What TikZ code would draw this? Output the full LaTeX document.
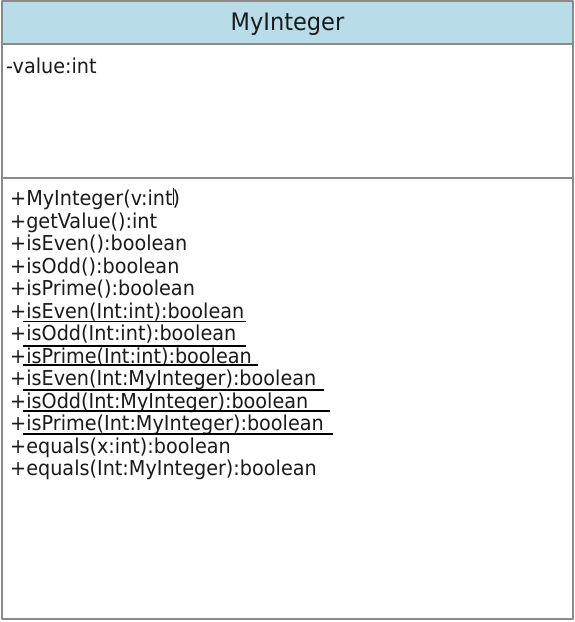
\documentclass[tikz,border=0pt]{standalone}
\usepackage{fontspec}
\setmainfont{DejaVu Sans}
\newfontfamily\umlfont{DejaVu Sans}[FakeStretch=0.937]
\usetikzlibrary{positioning}
\definecolor{headblue}{HTML}{B8DDE8}
\definecolor{boxgray}{HTML}{8A8A8A}
\definecolor{txtgray}{HTML}{1A1A1A}

\begin{document}
\begin{tikzpicture}[x=1bp,y=-1bp,line join=bevel,
  member/.style={anchor=base west,inner sep=0pt,text=txtgray,font=\umlfont\fontsize{20.5bp}{22bp}\selectfont},
  uline/.style={draw=black,line width=1.2bp}]
\useasboundingbox (0,0) rectangle (575,622);
\fill[white] (0,0) rectangle (575,622);
%% class frame
\filldraw[fill=headblue,draw=boxgray,line width=2bp] (2,1.5) rectangle (572.5,44);
\draw[boxgray,line width=2bp] (2,44) rectangle (572.5,618.5);
\draw[boxgray,line width=2bp] (2,178) -- (572.5,178);
%% name and attribute
\node (class_name) at (287.5,30.5) [anchor=base,inner sep=0pt,text=txtgray,font=\umlfont\fontsize{24bp}{26bp}\selectfont] {MyInteger};
\node (attr_value) at (6,74) [member] {-value:int};
%% operations
\foreach \txt [count=\i] in {+MyInteger(v:int),+getValue():int,+isEven():boolean,+isOdd():boolean,+isPrime():boolean,
  +isEven(Int:int):boolean,+isOdd(Int:int):boolean,+isPrime(Int:int):boolean,
  +isEven(Int:MyInteger):boolean,+isOdd(Int:MyInteger):boolean,+isPrime(Int:MyInteger):boolean,
  +equals(x:int):boolean,+equals(Int:MyInteger):boolean}
  \node (oper_\i) at (10,{205.5+(\i-1)*22.5}) [member] {\txt};
%% static underlines
\foreach \uy/\ux in {321.7/245.7,346/245.7,365/257.7,390/324,411/330,434/333}
  \draw [uline] (23,\uy) -- (\ux,\uy);
%% caret
\draw [txtgray,line width=0.6bp] (173,188) -- (173,205);
%
\end{tikzpicture}
\end{document}
